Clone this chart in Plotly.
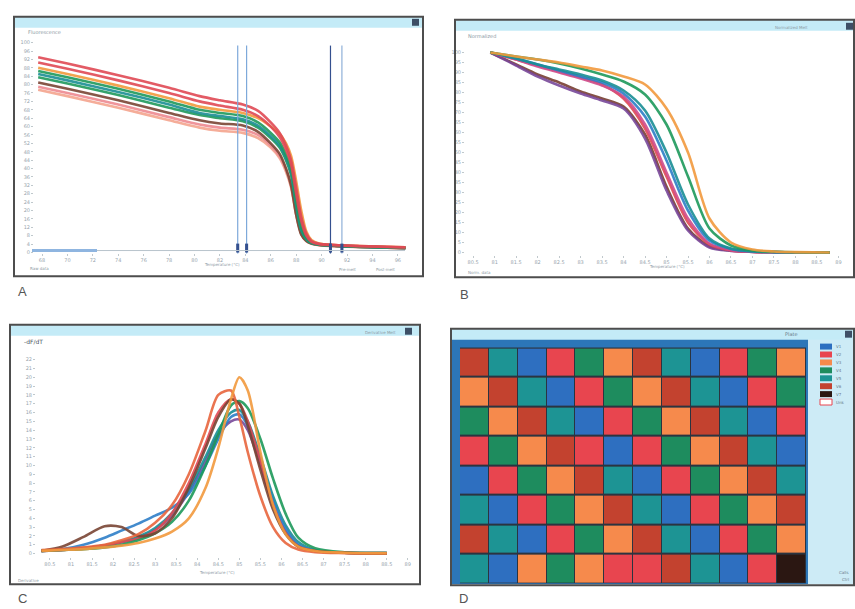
import plotly.graph_objects as go

# ---------------- data ----------------
# Panel A: raw melt curves (temperature in °C vs fluorescence)
A_temp = [67.7, 70, 74, 78, 80.4, 82, 83.8, 85, 86, 86.7, 87.2, 87.6, 88, 88.4, 88.8, 89.2, 89.8, 91, 93, 96.6]
A_red_1 = [93, 90, 84.5, 78.5, 74.5, 72.5, 70.5, 67.5, 62, 57, 51, 44, 31, 17, 9, 5.5, 4.2, 3.6, 3.1, 2.5]
A_red_2 = [90.5, 87.5, 82, 76, 72, 70, 68, 65, 60, 55, 49, 42, 28, 15, 8, 5, 4, 3.5, 3.0, 2.4]
A_orange = [88, 85, 79.5, 73.5, 69.5, 68, 66.5, 64, 60, 56.5, 52, 46, 34, 20, 10, 6, 4.3, 3.6, 3.1, 2.5]
A_green_1 = [86.5, 83.5, 78, 72, 68, 66.5, 65, 62, 57, 52.5, 46.5, 40, 25, 12.5, 7, 4.8, 3.9, 3.4, 2.9, 2.3]
A_teal = [85, 82, 76.5, 70.5, 66.5, 65, 63.5, 60.5, 55.5, 51, 45, 38, 23, 11, 6.5, 4.6, 3.8, 3.3, 2.8, 2.2]
A_green_2 = [83.5, 80.5, 75, 69, 65.5, 64, 62.5, 59.5, 54.5, 50, 44, 37, 22, 10.5, 6.2, 4.5, 3.7, 3.2, 2.7, 2.2]
A_brown = [81, 78, 72.5, 66.5, 63, 61.5, 60.5, 57.5, 52, 47, 40, 32, 18, 8.5, 5.5, 4.3, 3.6, 3.1, 2.7, 2.1]
A_pink = [79, 76, 70.5, 64.5, 61, 59.5, 58.5, 56, 51, 46, 39.5, 32, 18.5, 9, 5.6, 4.3, 3.6, 3.1, 2.6, 2.1]
A_salmon = [77.5, 74.5, 69, 63, 59.5, 58, 57, 54.5, 50, 45, 38.5, 31, 18, 9, 5.5, 4.2, 3.5, 3.0, 2.6, 2.0]
A_cursor_temps = [83.4, 84.1, 90.7, 91.6]
A_xticks = [68, 70, 72, 74, 76, 78, 80, 82, 84, 86, 88, 90, 92, 94, 96]

# Panel B: normalized melt curves (%)
B_temp = [80.9, 81.5, 82, 82.5, 83, 83.5, 84, 84.5, 85, 85.5, 86, 86.5, 87, 87.5, 88, 88.8]
B_brown = [100, 94, 89, 85, 80.5, 77, 73, 59, 33, 12, 3, 1, 0.4, 0.2, 0.1, 0]
B_purple = [100, 93.5, 88, 83.5, 79.5, 76, 72, 57, 31, 11, 2.5, 0.8, 0.3, 0.1, 0, 0]
B_red = [100, 96.5, 93.5, 90.5, 87.5, 84, 77, 62, 38, 15, 4, 1, 0.3, 0.1, 0, 0]
B_magenta = [100, 96.5, 93, 90, 87, 83.5, 78, 64, 40, 17, 4.5, 1.2, 0.4, 0.1, 0.05, 0]
B_blue = [100, 97, 94, 91, 88, 85, 79.5, 68, 46, 21, 6, 1.8, 0.5, 0.2, 0.1, 0]
B_teal = [100, 97, 94, 91.5, 89, 86, 81, 71, 50, 24, 7, 2, 0.6, 0.2, 0.1, 0]
B_green = [100, 98, 96.5, 94.5, 92, 89, 85.5, 79, 64, 38, 12, 3.5, 1, 0.4, 0.1, 0]
B_orange = [100, 98, 96.5, 95, 93, 91, 88, 84, 72, 50, 17, 5, 1.5, 0.5, 0.2, 0]
B_xticks = [80.5, 81, 81.5, 82, 82.5, 83, 83.5, 84, 84.5, 85, 85.5, 86, 86.5, 87, 87.5, 88, 88.5, 89]

# Panel C: derivative melt curves (-dF/dT)
C_temp = [80.3, 80.8, 81.3, 81.8, 82.2, 82.6, 83.0, 83.4, 83.8, 84.2, 84.5, 84.8, 85.0, 85.2, 85.5, 85.8, 86.1, 86.4, 86.8, 87.5, 88.5]
C_brown = [0.3, 0.8, 1.9, 3.1, 3.0, 2.0, 2.3, 4.0, 7.5, 12, 15.5, 17.5, 17, 14.5, 9.5, 5, 2.2, 0.8, 0.3, 0.1, 0]
C_blue = [0.3, 0.5, 1.0, 1.8, 2.6, 3.4, 4.3, 5.2, 6.8, 10, 13, 15.5, 15.8, 14.5, 10.5, 6, 2.8, 1.0, 0.35, 0.1, 0.05]
C_purple = [0.3, 0.4, 0.6, 0.9, 1.3, 1.8, 2.7, 4.3, 7, 10.5, 13.5, 15, 15.2, 14, 10, 5.5, 2.5, 0.9, 0.3, 0.1, 0.05]
C_teal = [0.3, 0.4, 0.6, 0.9, 1.3, 1.9, 2.9, 4.6, 7.3, 11, 14, 16, 16.3, 15, 11, 6.5, 3.2, 1.3, 0.4, 0.1, 0.05]
C_red = [0.3, 0.4, 0.6, 0.9, 1.3, 1.7, 2.6, 4.6, 8, 12.5, 16, 17.5, 17, 15, 10.5, 5.5, 2.3, 0.8, 0.3, 0.1, 0]
C_red_orange = [0.4, 0.5, 0.7, 1.0, 1.5, 2.2, 3.5, 5.5, 9.0, 14, 18, 18.5, 15.5, 11.5, 6.5, 3, 1.2, 0.45, 0.15, 0.05, 0]
C_green = [0.3, 0.4, 0.5, 0.7, 1.0, 1.5, 2.3, 3.6, 6, 10, 13.5, 16.8, 17.3, 16.5, 13, 8.5, 4.5, 1.8, 0.6, 0.15, 0.05]
C_orange = [0.3, 0.4, 0.5, 0.7, 0.9, 1.2, 1.7, 2.5, 4.0, 7.5, 12, 17.5, 20, 18.5, 11.5, 5.5, 2.2, 0.8, 0.3, 0.1, 0.05]
C_xticks = B_xticks

# Panel D: 96-well plate genotype calls (0 blue,1 red,2 orange,3 green,4 teal,5 brick,6 black)
D_rows = ["A", "B", "C", "D", "E", "F", "G", "H"]
D_cols = ["1", "2", "3", "4", "5", "6", "7", "8", "9", "10", "11", "12"]
D_row_A = [5, 4, 0, 1, 3, 2, 5, 4, 0, 1, 3, 2]
D_row_B = [2, 5, 4, 0, 1, 3, 2, 5, 4, 0, 1, 3]
D_row_C = [3, 2, 5, 4, 0, 1, 3, 2, 5, 4, 0, 1]
D_row_D = [1, 3, 2, 5, 1, 0, 1, 3, 2, 5, 4, 0]
D_row_E = [0, 1, 3, 2, 5, 4, 0, 1, 3, 2, 5, 4]
D_row_F = [4, 0, 1, 3, 2, 5, 4, 0, 1, 3, 2, 5]
D_row_G = [5, 4, 0, 1, 3, 2, 5, 4, 0, 1, 3, 2]
D_row_H = [4, 0, 2, 3, 2, 1, 1, 5, 4, 0, 1, 6]
D_group_names = ["V1", "V2", "V3", "V4", "V5", "V6", "V7", "Unk"]

# ---------------- styling ----------------
W, H = 855, 609
RED, ORANGE, GREEN, TEAL = "#e04a55", "#f29a3e", "#1f9a5c", "#1b8f95"
BLUE, MAGENTA, BROWN, PURPLE = "#2f7fc8", "#cf4f8c", "#7a4535", "#7a4a9a"
PINK, SALMON = "#ee8a92", "#f4a58f"
D_colors = ["#2e6fc0", "#e8454f", "#f68a4c", "#1e8c5e", "#1d9494", "#c3422f", "#2b1712"]

fig = go.Figure()

def add_lines(xs, series, xa, ya, width):
    for ys, col in series:
        fig.add_trace(go.Scatter(x=xs, y=ys, mode="lines", xaxis=xa, yaxis=ya,
                                 line=dict(color=col, width=width, shape="spline", smoothing=0.8),
                                 opacity=0.9, hoverinfo="skip", showlegend=False))

add_lines(A_temp, [(A_salmon, SALMON), (A_pink, PINK), (A_brown, BROWN), (A_green_2, GREEN),
                   (A_teal, TEAL), (A_orange, ORANGE), (A_green_1, GREEN), (A_red_2, RED),
                   (A_red_1, RED)], "x", "y", 2.6)
add_lines(B_temp, [(B_brown, BROWN), (B_purple, PURPLE), (B_red, RED), (B_magenta, MAGENTA),
                   (B_blue, BLUE), (B_teal, TEAL), (B_green, GREEN), (B_orange, ORANGE)], "x2", "y2", 2.6)
add_lines(C_temp, [(C_purple, PURPLE), (C_teal, TEAL), (C_blue, BLUE), (C_red, RED),
                   (C_green, GREEN), (C_brown, BROWN), (C_red_orange, "#e8663e"),
                   (C_orange, ORANGE)], "x3", "y3", 2.6)

D_z = [D_row_A, D_row_B, D_row_C, D_row_D, D_row_E, D_row_F, D_row_G, D_row_H]
n = len(D_colors)
cscale = []
for i, c in enumerate(D_colors):
    cscale.append([i / n, c])
    cscale.append([(i + 1) / n, c])
fig.add_trace(go.Heatmap(z=D_z, x=D_cols, y=D_rows, xaxis="x4", yaxis="y4",
                         colorscale=cscale, zmin=-0.5, zmax=n - 0.5, showscale=False,
                         xgap=1, ygap=2, hoverinfo="skip"))

def px(v): return v / W
def py(v): return 1 - v / H

tickfont = dict(family="DejaVu Sans", size=5, color="#98a5ae")
def ax(domain, rng, **kw):
    d = dict(domain=domain, range=rng, showgrid=False, zeroline=False, showline=False,
             tickfont=tickfont, ticks="outside", ticklen=2, tickcolor="#c0c8cc")
    d.update(kw)
    return d

layout = dict(
    width=W, height=H, margin=dict(l=0, r=0, t=0, b=0), autosize=False,
    paper_bgcolor="white", plot_bgcolor="rgba(0,0,0,0)", showlegend=False,
    xaxis=ax([px(34), px(416)], [67.37, 97.43], anchor="y", tickvals=A_xticks),
    yaxis=ax([py(252), py(40)], [0, 100], anchor="x", dtick=4),
    xaxis2=ax([px(465), px(850)], [80.31, 89.27], anchor="y2", tickvals=B_xticks),
    yaxis2=ax([py(255), py(40)], [-1.49, 104.95], anchor="x2", dtick=5),
    xaxis3=ax([px(36), px(412)], [80.17, 89.1], anchor="y3", tickvals=C_xticks),
    yaxis3=ax([py(559.6), py(344.2)], [-0.4, 23.8], anchor="x3", tickvals=list(range(0, 23))),
    xaxis4=dict(domain=[px(460), px(806)], anchor="y4", visible=False),
    yaxis4=dict(domain=[py(586), py(348)], anchor="x4", visible=False, autorange="reversed"),
)
fig.update_layout(**layout)

shapes, annos = [], []
def rect(x0, y0, x1, y1, fill=None, line=None, lw=0, layer="above"):
    shapes.append(dict(type="rect", xref="paper", yref="paper", x0=px(x0), x1=px(x1),
                       y0=py(y1), y1=py(y0), fillcolor=fill or "rgba(0,0,0,0)",
                       line=dict(color=line or "rgba(0,0,0,0)", width=lw), layer=layer))
def text(x, y, s, size=5, color="#8c9aa4", anchor="left", fam="DejaVu Sans"):
    annos.append(dict(x=px(x), y=py(y), xref="paper", yref="paper", text=s, showarrow=False,
                      xanchor=anchor, yanchor="middle", font=dict(size=size, color=color, family=fam)))

# panel D backgrounds (below the heatmap)
rect(451, 339, 808, 587, fill="#2c76b8", layer="below")
rect(460, 348, 806, 586, fill="#2b3440", layer="below")
rect(808, 339, 854, 587, fill="#cdebf6", layer="below")

# title bars
for (x0, y0, x1) in [(14, 14, 423), (455, 17, 854), (10, 325, 420), (451, 329, 854)]:
    rect(x0, y0, x1, y0 + 11, fill="#c4ebf7")
# frames
for (x0, y0, x1, y1) in [(14, 14, 423, 276), (455, 17, 854, 277), (10, 325, 420, 587), (451, 329, 854, 588)]:
    rect(x0, y0, x1, y1, line="#4d4d4d", lw=2)
# small title bar icons
for (x0, y0) in [(412, 16), (846, 20), (405, 328), (845, 331)]:
    rect(x0, y0, x0 + 7, y0 + 7, fill="#3d4f66")

# panel A cursor lines and scroll bar
cursor_cols = ["#7ea9da", "#7ea9da", "#34508f", "#8fb0d8"]
for t, c in zip(A_cursor_temps, cursor_cols):
    shapes.append(dict(type="line", xref="x", yref="paper", x0=t, x1=t, y0=py(253), y1=py(43),
                       line=dict(color=c, width=1.2)))
    shapes.append(dict(type="rect", xref="x", yref="paper", x0=t - 0.12, x1=t + 0.12,
                       y0=py(252), y1=py(243), fillcolor="#34508f", line=dict(width=0)))
shapes.append(dict(type="line", xref="paper", yref="paper", x0=px(32), x1=px(405), y0=py(250), y1=py(250),
                   line=dict(color="#b8c4cc", width=1)))
shapes.append(dict(type="line", xref="paper", yref="paper", x0=px(32), x1=px(97), y0=py(250), y1=py(250),
                   line=dict(color="#8fb5e0", width=3)))

# panel D legend swatches
for i, name in enumerate(D_group_names):
    y = 347 + i * 8
    if i < len(D_colors):
        rect(820, y - 3, 832, y + 3, fill=D_colors[i])
    else:
        rect(820, y - 3, 832, y + 3, fill="white", line="#e8454f", lw=1)
    text(834, y, name, size=4, color="#6a7a88")
text(851, 575, "Calls", size=4, color="#6a7a88", anchor="right")
text(851, 582, "Ctrl", size=4, color="#6a7a88", anchor="right")
text(800, 334, "Plate", size=5, color="#6a7a88", anchor="right")

# small captions
text(26, 29, "Fluorescence", size=5)
text(222, 264, "Temperature (°C)", size=4, anchor="center")
text(28, 268, "Raw data", size=4)
text(347, 269, "Pre-melt", size=4, anchor="center")
text(385, 269, "Post-melt", size=4, anchor="center")
text(466, 33, "Normalized", size=5)
text(810, 25, "Normalized Melt", size=4, anchor="right")
text(667, 266, "Temperature (°C)", size=4, anchor="center")
text(466, 272, "Norm. data", size=4)
text(22, 342, "-dF/dT", size=6, color="#4a5560")
text(398, 333, "Derivative Melt", size=4, anchor="right")
text(217, 575, "Temperature (°C)", size=4, anchor="center")
text(16, 583, "Derivative", size=4)

# panel letters
for (x, y, s) in [(16, 291, "A"), (458, 294, "B"), (16, 601, "C"), (457, 601, "D")]:
    text(x, y, s, size=13, color="#555555", fam="Liberation Sans")

fig.update_layout(shapes=shapes, annotations=annos)
fig.write_html("out.html", config={"displayModeBar": False},
               post_script="document.body.style.margin='0';")
